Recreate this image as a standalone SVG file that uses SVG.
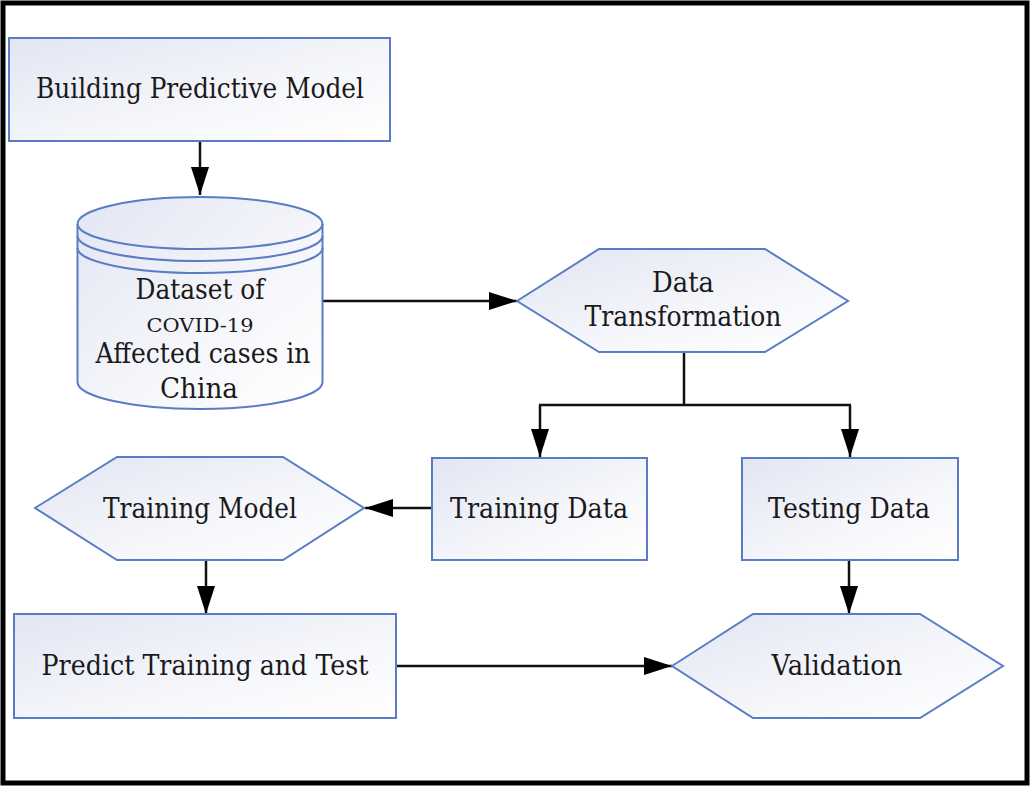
<svg xmlns="http://www.w3.org/2000/svg" width="1031" height="788" viewBox="0 0 1031 788">
<defs>
<linearGradient id="fillg" x1="0" y1="0" x2="1" y2="1">
<stop offset="0" stop-color="#e2e6f3"/>
<stop offset="0.6" stop-color="#f6f7fb"/>
<stop offset="1" stop-color="#ffffff"/>
</linearGradient>
<marker id="arr" markerUnits="userSpaceOnUse" markerWidth="30" markerHeight="20" refX="28" refY="9" orient="auto">
<path d="M0,0 L28,9 L0,18 z" fill="#000"/>
</marker>
</defs>
<style>
.shape{fill:url(#fillg);stroke:#5a7cc4;stroke-width:2}
.line{fill:none;stroke:#5a7cc4;stroke-width:2}
.conn{fill:none;stroke:#111;stroke-width:2.5}
.t{font-family:"DejaVu Serif","Liberation Serif",serif;font-size:27px;fill:#1a1a1a;text-anchor:middle}
.s{font-size:19px}
</style>
<rect x="0" y="0" width="1031" height="788" fill="#fff"/>
<rect x="3" y="3" width="1024" height="780" fill="none" stroke="#000" stroke-width="5"/>

<g id="connectors">
<line class="conn" x1="200" y1="141" x2="200" y2="195" marker-end="url(#arr)"/>
<line class="conn" x1="322" y1="301" x2="517" y2="301" marker-end="url(#arr)"/>
<polyline class="conn" points="684,352 684,405"/>
<line class="conn" x1="539" y1="405" x2="851" y2="405"/>
<line class="conn" x1="540" y1="405" x2="540" y2="457" marker-end="url(#arr)"/>
<line class="conn" x1="850" y1="405" x2="850" y2="457" marker-end="url(#arr)"/>
<line class="conn" x1="432" y1="508" x2="365" y2="508" marker-end="url(#arr)"/>
<line class="conn" x1="206" y1="560" x2="206" y2="614" marker-end="url(#arr)"/>
<line class="conn" x1="849" y1="560" x2="849" y2="614" marker-end="url(#arr)"/>
<line class="conn" x1="396" y1="666" x2="672" y2="666" marker-end="url(#arr)"/>
</g>

<g id="building">
<rect class="shape" x="9" y="38" width="381" height="103"/>
<text class="t" x="200" y="98" textLength="328" lengthAdjust="spacingAndGlyphs">Building Predictive Model</text>
</g>

<g id="dataset">
<path class="shape" d="M77.5,224 L77.5,382 A122.5,27 0 0 0 322.5,382 L322.5,224 A122.5,27 0 0 0 77.5,224 Z"/>
<path class="line" d="M77.5,224 A122.5,25 0 0 0 322.5,224"/>
<path class="line" d="M77.5,236 A122.5,25 0 0 0 322.5,236"/>
<path class="line" d="M77.5,248 A122.5,25 0 0 0 322.5,248"/>
<text class="t" x="200" y="299" textLength="129" lengthAdjust="spacingAndGlyphs">Dataset of</text>
<text class="t s" x="200" y="332" textLength="107" lengthAdjust="spacingAndGlyphs">COVID-19</text>
<text class="t" x="203" y="363" textLength="215" lengthAdjust="spacingAndGlyphs">Affected cases in</text>
<text class="t" x="199" y="398" textLength="78" lengthAdjust="spacingAndGlyphs">China</text>
</g>

<g id="transformation">
<polygon class="shape" points="517,301 599,249 765,249 848,301 765,352 599,352"/>
<text class="t" x="683" y="292" textLength="62" lengthAdjust="spacingAndGlyphs">Data</text>
<text class="t" x="683" y="326" textLength="197" lengthAdjust="spacingAndGlyphs">Transformation</text>
</g>

<g id="training-data">
<rect class="shape" x="432" y="458" width="215" height="102"/>
<text class="t" x="539" y="518" textLength="178" lengthAdjust="spacingAndGlyphs">Training Data</text>
</g>

<g id="testing-data">
<rect class="shape" x="742" y="458" width="216" height="102"/>
<text class="t" x="849" y="518" textLength="162" lengthAdjust="spacingAndGlyphs">Testing Data</text>
</g>

<g id="training-model">
<polygon class="shape" points="35,508 117,457 283,457 364,508 283,560 117,560"/>
<text class="t" x="200" y="518" textLength="194" lengthAdjust="spacingAndGlyphs">Training Model</text>
</g>

<g id="predict">
<rect class="shape" x="14" y="614" width="382" height="104"/>
<text class="t" x="205" y="675" textLength="327" lengthAdjust="spacingAndGlyphs">Predict Training and Test</text>
</g>

<g id="validation">
<polygon class="shape" points="672,666 753,614 920,614 1003,666 920,718 753,718"/>
<text class="t" x="837" y="675" textLength="131" lengthAdjust="spacingAndGlyphs">Validation</text>
</g>
</svg>
